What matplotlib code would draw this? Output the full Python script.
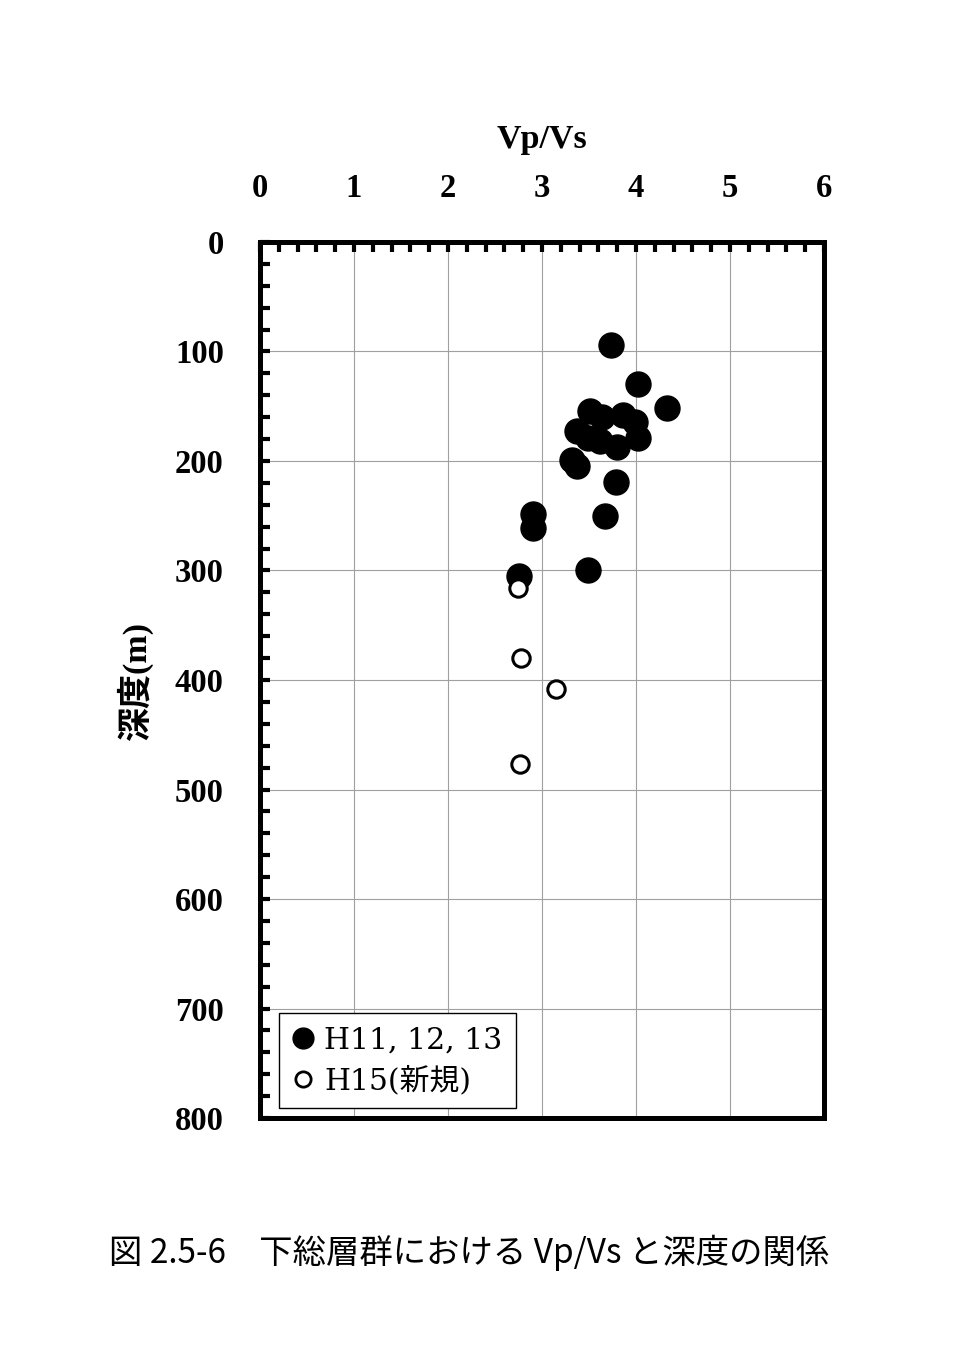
import matplotlib.pyplot as plt
from matplotlib.lines import Line2D
from matplotlib.ticker import MultipleLocator

# H11, 12, 13 (黒丸)
vpvs_old = [3.73, 4.02, 4.33, 3.51, 3.64, 3.86, 3.99, 3.37, 3.49, 4.02, 3.80,
            3.62, 3.32, 3.37, 3.79, 3.67, 2.90, 2.90, 3.49, 2.75]
depth_old = [94, 130, 152, 154, 160, 158, 164, 173, 179, 179, 187,
             182, 199, 205, 219, 250, 248, 261, 300, 305]

# H15(新規) (白丸)
vpvs_new = [2.74, 2.78, 3.15, 2.77]
depth_new = [316, 380, 408, 477]

serif = ['Liberation Serif', 'Noto Sans CJK JP', 'DejaVu Sans']
legend_font = ['DejaVu Serif', 'Noto Sans CJK JP']

fig = plt.figure(figsize=(9.73, 13.6), dpi=100)
ax = fig.add_axes([0.2672, 0.1779, 0.5797, 0.6442])

ax.plot(vpvs_old, depth_old, 'o', color='black', markersize=18,
        linestyle='none', zorder=3, clip_on=False)
ax.plot(vpvs_new, depth_new, 'o', markerfacecolor='white',
        markeredgecolor='black', markersize=12.5, markeredgewidth=2.2,
        linestyle='none', zorder=3, clip_on=False)

ax.set_xlim(0, 6)
ax.set_ylim(800, 0)
ax.xaxis.set_major_locator(MultipleLocator(1))
ax.xaxis.set_minor_locator(MultipleLocator(0.2))
ax.yaxis.set_major_locator(MultipleLocator(100))
ax.yaxis.set_minor_locator(MultipleLocator(20))
ax.grid(True, which='major', color='#a0a0a0', linewidth=0.8, zorder=1)
ax.set_axisbelow(True)

ax.xaxis.tick_top()
ax.xaxis.set_label_position('top')
ax.tick_params(axis='x', which='both', direction='in', top=True,
               bottom=False, width=3, length=7, pad=27)
ax.tick_params(axis='y', which='both', direction='in', left=True,
               right=False, width=3, length=7, pad=26)
for lab in ax.get_xticklabels() + ax.get_yticklabels():
    lab.set_fontfamily(serif)
    lab.set_fontweight('bold')
    lab.set_fontsize(23.5)

for sp in ax.spines.values():
    sp.set_linewidth(3.6)

ax.set_xlabel('Vp/Vs', fontfamily=serif, fontweight='bold', fontsize=24.5,
              labelpad=18)
ax.set_ylabel('深度(m)', fontfamily=serif, fontweight='bold', fontsize=24.5,
              labelpad=16)

handles = [
    Line2D([], [], marker='o', color='black', linestyle='none', markersize=15),
    Line2D([], [], marker='o', markerfacecolor='white', markeredgecolor='black',
           markeredgewidth=2, linestyle='none', markersize=11),
]
leg = ax.legend(handles, ['H11, 12, 13', 'H15(新規)'], loc='lower left',
                bbox_to_anchor=(0.034, 0.011), borderaxespad=0,
                prop={'family': legend_font, 'size': 21.5}, fancybox=False,
                handlelength=0.7, handletextpad=0.35, borderpad=0.45,
                labelspacing=0.35, framealpha=1)
leg.get_frame().set_edgecolor('black')
leg.get_frame().set_linewidth(1)

fig.text(0.482, 0.079, '図 2.5-6　下総層群における Vp/Vs と深度の関係',
         ha='center', va='center', fontsize=24,
         fontfamily=['Noto Sans CJK JP', 'DejaVu Sans'])

fig.savefig('out.png', dpi=100)
